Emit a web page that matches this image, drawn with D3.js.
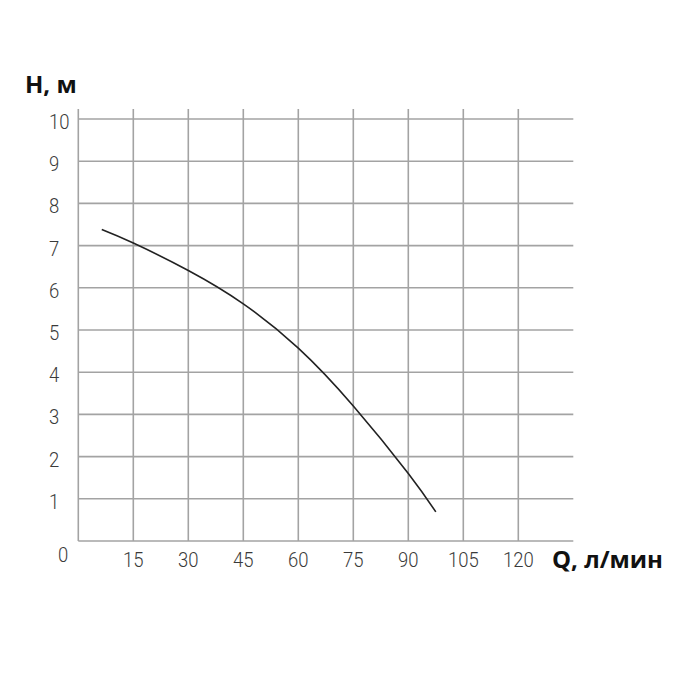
<!DOCTYPE html>
<html>
<head>
<meta charset="utf-8">
<script src="https://cdn.jsdelivr.net/npm/d3@7"></script>
<style>
  html, body { margin: 0; padding: 0; background: #fff; }
  svg { display: block; }
</style>
</head>
<body>
<svg id="chart" width="700" height="700"></svg>
<script>
// ---- data ----
const flowValues = [6.4, 15, 30, 45, 60, 75, 90, 97.5];          // Q, л/мин
const headValues = [7.38, 7.06, 6.41, 5.62, 4.57, 3.2, 1.6, 0.69]; // H, м
const xTicks = [15, 30, 45, 60, 75, 90, 105, 120];
const yTicks = [1, 2, 3, 4, 5, 6, 7, 8, 9, 10];
const xAxisTitle = "Q, л/мин";
const yAxisTitle = "H, м";

// ---- layout ----
const svg = d3.select("#chart");
const x = d3.scaleLinear().domain([0, 135]).range([78.3, 573.3]);
const y = d3.scaleLinear().domain([0, 10]).range([541, 119]);

const gridColor = "#a3a3a3";
const labelColor = "#3a3a3a";
const tickFont = "Roboto, 'Liberation Sans', sans-serif";

// horizontal grid lines (including bottom axis)
svg.append("g").selectAll("line").data([0, ...yTicks]).join("line")
  .attr("x1", x(0)).attr("x2", x(135))
  .attr("y1", d => y(d)).attr("y2", d => y(d))
  .attr("stroke", gridColor).attr("stroke-width", 1.6);

// vertical grid lines (including left axis), extending above top line
svg.append("g").selectAll("line").data([0, ...xTicks]).join("line")
  .attr("x1", d => x(d)).attr("x2", d => x(d))
  .attr("y1", y(10) - 10).attr("y2", y(0))
  .attr("stroke", gridColor).attr("stroke-width", 1.6);

// y tick labels
svg.append("g").selectAll("text").data(yTicks).join("text")
  .attr("transform", d => `translate(49,${y(d) + 3}) scale(0.88,1)`)
  .attr("dominant-baseline", "central")
  .attr("font-family", tickFont).attr("font-weight", 300)
  .attr("font-size", 21).attr("fill", labelColor)
  .text(d => d);

// x tick labels
svg.append("g").selectAll("text").data(xTicks).join("text")
  .attr("transform", d => `translate(${x(d)},${y(0) + 19}) scale(0.88,1)`)
  .attr("text-anchor", "middle")
  .attr("dominant-baseline", "central")
  .attr("font-family", tickFont).attr("font-weight", 300)
  .attr("font-size", 21).attr("fill", labelColor)
  .text(d => d);

// origin label
svg.append("text")
  .attr("transform", `translate(63,${y(0) + 14}) scale(0.88,1)`)
  .attr("text-anchor", "middle")
  .attr("dominant-baseline", "central")
  .attr("font-family", tickFont).attr("font-weight", 300)
  .attr("font-size", 21).attr("fill", labelColor)
  .text("0");

// axis titles
svg.append("text")
  .attr("x", 25).attr("y", 93)
  .attr("font-family", "'Open Sans', 'Liberation Sans', sans-serif")
  .attr("font-weight", "bold").attr("font-size", 24).attr("fill", "#111")
  .text(yAxisTitle);

svg.append("text")
  .attr("x", 552).attr("y", 568)
  .attr("font-family", "'Open Sans', 'Liberation Sans', sans-serif")
  .attr("font-weight", "bold").attr("font-size", 24).attr("fill", "#111")
  .text(xAxisTitle);

// curve
const pts = flowValues.map((q, i) => [q, headValues[i]]);
svg.append("path")
  .datum(pts)
  .attr("fill", "none")
  .attr("stroke", "#222")
  .attr("stroke-width", 1.6)
  .attr("d", d3.line().x(d => x(d[0])).y(d => y(d[1])).curve(d3.curveNatural));
</script>
</body>
</html>
